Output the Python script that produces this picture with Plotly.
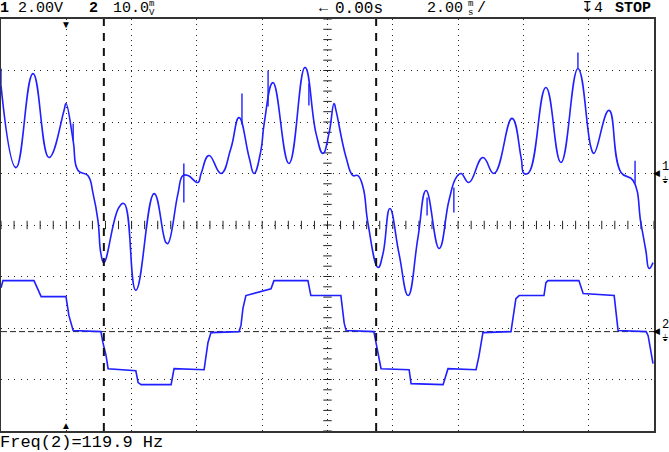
import numpy as np
import plotly.graph_objects as go

# channel 1 (V, 2.00 V/div) - main trace
ch1_t = [-2.00, -1.54, -1.02, -0.53, -0.07, -0.01, 0.21, 0.36, 0.66, 0.82, 0.97, 1.06, 1.15, 1.61, 1.77,
         2.13, 2.69, 3.05, 3.11, 3.42, 3.57, 3.73, 4.03, 4.13, 4.37, 4.74, 5.04, 5.29, 5.60, 5.75, 5.96,
         6.06, 6.33, 6.82, 7.31, 7.65, 7.86, 8.05, 8.20, 8.26, 8.57, 8.78, 8.93, 9.09, 9.24, 9.55, 9.70,
         9.91, 10.19, 10.47, 10.77, 11.02, 11.42, 11.72, 11.94, 12.09, 12.33, 12.76, 13.10, 13.65, 13.93,
         14.02, 14.17, 14.69, 15.15, 15.67, 16.07, 16.16, 16.62, 16.99, 17.36, 17.60, 17.75, 17.85, 17.97]
ch1_v = [3.42, 0.23, 3.88, 0.62, 2.45, 2.72, 1.28, 0.12, -0.08, -0.78, -1.83, -3.11, -3.46, -1.32, -1.17,
         -4.54, -0.78, -2.68, -2.72, -0.78, -0.08, -0.08, -0.35, 0.00, 0.70, 0.00, 0.97, 2.17, 0.62, 0.00, 0.89,
         1.94, 3.53, 0.39, 4.12, 1.55, 0.78, 1.59, 2.72, 2.45, 0.62, -0.08, -0.08, -0.54, -1.94, -3.65, -3.11,
         -1.36, -3.11, -4.74, -2.49, -0.66, -2.91, -1.05, -0.16, 0.00, -0.35, 0.62, 0.00, 2.14, 0.62,
         0.00, 0.04, 3.34, 0.43, 4.08, 1.01, 0.78, 2.45, 0.04, -0.27, -1.94, -2.99, -3.69, -3.46]

# glitches on channel 1
spike_t = [-2.00, 0.21, 3.60, 5.38, 6.18, 7.43, 11.05, 11.87, 15.67, 17.42]
spike_lo = [3.42, 1.28, -1.13, 1.90, 2.60, 2.64, -1.63, -1.51, 4.08, -0.39]
spike_hi = [4.08, 1.94, 0.39, 3.11, 4.00, 3.50, -0.93, -0.54, 4.70, 0.50]

# channel 2 (mV, 10.0 mV/div)
ch2_t = [-2.00, -1.94, -0.99, -0.87, -0.77, -0.01, 0.08, 0.21, 1.06, 1.12, 1.22, 1.28, 2.13, 2.20, 2.29,
         3.21, 3.30, 4.22, 4.34, 4.43, 5.29, 5.35, 5.41, 5.50, 6.27, 6.36, 7.40, 7.49, 8.41, 8.51, 8.57,
         9.42, 9.49, 9.58, 9.64, 10.50, 10.56, 11.54, 11.69, 12.55, 12.64, 12.76, 13.62, 13.77, 13.87,
         14.63, 14.69, 14.75, 15.70, 15.83, 16.78, 16.90, 17.76, 17.82, 17.97]
ch2_mv = [8.5, 9.9, 9.9, 8.0, 6.8, 6.8, 3.1, 0.2, 0.0, -2.1, -4.7, -7.2, -7.6, -9.9, -10.3,
          -10.3, -7.2, -7.4, -2.1, -0.2, 0.0, 1.2, 4.5, 7.0, 8.3, 9.9, 9.9, 7.0, 7.0, 1.7, 0.2,
          0.0, -2.1, -5.2, -7.2, -7.4, -10.1, -10.3, -7.2, -7.4, -4.7, -0.2, 0.0, 6.4, 7.0,
          7.0, 9.5, 9.9, 9.9, 7.4, 7.0, 0.2, 0.0, -0.8, -6.2]

cursor_t = [1.15, 9.49]   # time cursors (ms)
trig_t = 0.0

W, H = 669, 452
ML, MR, MT, MB = 1, 15, 19, 21
PW, PH = W - ML - MR, H - MT - MB
BLUE = "#1f1fff"


def px(x):
    return (x - ML) / PW


def py(y):
    return (H - MB - y) / PH


fig = go.Figure()

# graticule centre-line ticks
fig.add_trace(go.Scatter(x=np.arange(-2, 18.01, 0.4), y=[-2] * 51, mode="markers", hoverinfo="skip",
                         marker=dict(symbol="line-ns", size=6, line=dict(width=1, color="#222"))))
fig.add_trace(go.Scatter(x=[8] * 41, y=np.arange(-10, 6.01, 0.4), mode="markers", hoverinfo="skip",
                         marker=dict(symbol="line-ew", size=6, line=dict(width=1, color="#222"))))

fig.add_trace(go.Scatter(x=ch1_t, y=ch1_v, mode="lines",
                         line=dict(color=BLUE, width=1.6, shape="spline", smoothing=1.3)))

sx, sy = [], []
for t, lo, hi in zip(spike_t, spike_lo, spike_hi):
    sx += [t, t, None]
    sy += [lo, hi, None]
fig.add_trace(go.Scatter(x=sx, y=sy, mode="lines", line=dict(color=BLUE, width=1.4)))

fig.add_trace(go.Scatter(x=ch2_t, y=ch2_mv, mode="lines", yaxis="y2", line=dict(color=BLUE, width=1.6)))

# ch2 ground reference line
fig.add_shape(type="line", xref="x", yref="y2", x0=-2, x1=18, y0=0, y1=0,
              line=dict(color="#222", width=1, dash="6px,3px"), layer="below")

for c in cursor_t:
    fig.add_shape(type="line", xref="x", yref="paper", x0=c, x1=c, y0=0, y1=1,
                  line=dict(color="#111", width=2, dash="8px,7px"))


def label(txt, x, y, size=15, xa="left", family="Liberation Mono"):
    fig.add_annotation(x=px(x), y=py(y), xref="paper", yref="paper", text=txt, showarrow=False,
                       xanchor=xa, yanchor="middle", borderpad=0,
                       font=dict(family=family, size=size, color="black"))


# header / footer readouts
label("<b>1</b>", -1, 8.5)
label("2.00V", 17, 8.5)
label("<b>2</b>", 88, 8.5)
label("10.0", 112, 8.5)
label("m", 148, 4, 9)
label("V", 148, 12.5, 9)
label("←", 318, 8.5)
label("0.00s", 334, 8.5, 16)
label("2.00", 426, 8.5)
label("m", 467, 4, 9)
label("s", 467, 12.5, 9)
label("/", 476, 8.5)
label("↧4", 580, 8.5)
label("<b>STOP</b>", 614, 8.5)
label("Freq(2)=119.9 Hz", -1, 442, 17)

# trigger markers
for yy, sym in ((24, "▼"), (425, "▲")):
    fig.add_annotation(x=trig_t, y=py(yy), xref="x", yref="paper", text=sym,
                       showarrow=False, xanchor="center", yanchor="middle", borderpad=0,
                       font=dict(size=10, color="black"))

# channel ground markers on the right edge
for lbl, yy in [("1", 173), ("2", 331)]:
    label("◀", 657, yy, 9, "center", "DejaVu Sans")
    label(lbl, 665, yy - 6, 12, "center")
    label("⏚", 665, yy + 7, 9, "center", "DejaVu Sans")

fig.update_layout(
    width=W, height=H, margin=dict(l=ML, r=MR, t=MT, b=MB),
    paper_bgcolor="white", plot_bgcolor="white", showlegend=False,
    xaxis=dict(range=[-2, 18], tick0=-2, dtick=2, showticklabels=False, ticks="",
               showgrid=True, gridcolor="#222", gridwidth=1, griddash="1px,4.2px", zeroline=False,
               showline=True, linecolor="#333", linewidth=1.5, mirror=True),
    yaxis=dict(range=[-10, 6], tick0=-10, dtick=2, showticklabels=False, ticks="",
               showgrid=True, gridcolor="#222", gridwidth=1, griddash="1px,5.5px", zeroline=False,
               showline=True, linecolor="#333", linewidth=1.5, mirror=True),
    yaxis2=dict(range=[-19.3, 60.7], overlaying="y", showgrid=False, showticklabels=False,
                zeroline=False, ticks=""),
)

fig.write_html("out.html", config={"displayModeBar": False},
               post_script="document.body.style.margin='0px';")
